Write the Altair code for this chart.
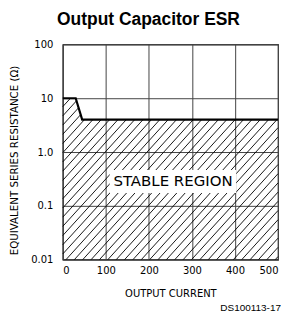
import altair as alt
import numpy as np
import pandas as pd

# ---- chart content ----
title_text = "Output Capacitor ESR"
curve_current = [0, 30, 45, 500]
curve_esr = [10, 10, 4, 4]
x_ticks = [0, 100, 200, 300, 400, 500]
y_ticks = [0.01, 0.1, 1, 10, 100]
x_title = "OUTPUT CURRENT"
y_title = "EQUIVALENT SERIES RESISTANCE (Ω)"
region_label = "STABLE REGION"
region_box_current = [109, 403]
region_box_esr = [0.174, 0.464]
footnote = "DS100113-17"

W, H = 216, 216
X_DOM = [0, 500]
Y_DOM = [0.01, 100]
FONT = "DejaVu Sans"

# ---- hatch pattern under the curve (straight lines in pixel space) ----
decades = np.log10(Y_DOM[1]) - np.log10(Y_DOM[0])
def to_px(xv, yv):
    return (np.asarray(xv, float) - X_DOM[0]) / (X_DOM[1] - X_DOM[0]) * W, \
           (np.log10(np.asarray(yv, float)) - np.log10(Y_DOM[0])) / decades * H
def from_px(px, py):
    return X_DOM[0] + px / W * (X_DOM[1] - X_DOM[0]), \
           10 ** (np.log10(Y_DOM[0]) + py / H * decades)

cx, cy = to_px(curve_current, curve_esr)
k = 1.1          # slope of hatch lines (pixels)
step = 8.4       # horizontal spacing of hatch lines (pixels)
grid = np.linspace(0, W, 8000)
bound = np.interp(grid, cx, cy)
rows = []
for c in np.arange(-400, W, step):
    if c >= 0:
        x0, y0 = c, 0.0
    else:
        x0, y0 = 0.0, -k * c
        if y0 >= bound[0]:
            continue
    m = grid >= x0
    f = k * (grid[m] - c) - bound[m]
    idx = np.nonzero(f >= 0)[0]
    if len(idx):
        x1 = grid[m][idx[0]]
        y1 = np.interp(x1, cx, cy)
    else:
        x1 = W
        y1 = k * (W - c)
    a, b = from_px(x0, y0)
    a2, b2 = from_px(x1, y1)
    rows.append({"x": a, "y": b, "x2": a2, "y2": b2})
hatch_df = pd.DataFrame(rows)

curve_df = pd.DataFrame({"current": curve_current, "esr": curve_esr})
box_df = pd.DataFrame({"x": [region_box_current[0]], "x2": [region_box_current[1]],
                       "y": [region_box_esr[0]], "y2": [region_box_esr[1]]})
label_df = pd.DataFrame({"x": [np.mean(region_box_current)],
                         "y": [float(np.sqrt(region_box_esr[0] * region_box_esr[1]))],
                         "t": [region_label]})
foot_df = pd.DataFrame({"t": [footnote]})
title_df = pd.DataFrame({"t": [title_text]})

xs = alt.Scale(domain=X_DOM, nice=False, zero=False)
ys = alt.Scale(type="log", domain=Y_DOM, nice=False)

x_axis = alt.Axis(values=x_ticks, title=x_title, grid=True, ticks=False, domain=False,
                  labelPadding=6, labelFontSize=10, labelFont=FONT, labelColor="black",
                  titleFont=FONT, titleFontSize=10, titleFontWeight="normal", titleColor="black",
                  titleY=37, titleBaseline="alphabetic", gridColor="#444", gridWidth=1,
                  gridOpacity=1)
y_axis = alt.Axis(values=y_ticks, title=y_title, grid=True, ticks=False, domain=False,
                  labelPadding=10, labelFontSize=10, labelFont=FONT, labelColor="black",
                  labelExpr="datum.value == 1 ? '1.0' : format(datum.value, '~g')",
                  titleFont=FONT, titleFontSize=10.3, titleFontWeight="normal", titleColor="black",
                  titleX=-43, titleY=116, titleBaseline="bottom", titleAngle=-90,
                  gridColor="#444", gridWidth=1, gridOpacity=1)

hatch = alt.Chart(hatch_df).mark_rule(color="black", strokeWidth=0.9).encode(
    x=alt.X("x:Q", scale=xs, axis=x_axis),
    y=alt.Y("y:Q", scale=ys, axis=y_axis),
    x2="x2:Q", y2="y2:Q")

box = alt.Chart(box_df).mark_rect(color="white", opacity=1).encode(
    x=alt.X("x:Q", scale=xs), x2="x2:Q", y=alt.Y("y:Q", scale=ys), y2="y2:Q")

label = alt.Chart(label_df).mark_text(font=FONT, fontSize=15, color="black",
                                      align="center", baseline="middle").encode(
    x=alt.X("x:Q", scale=xs), y=alt.Y("y:Q", scale=ys), text="t:N")

line = alt.Chart(curve_df).mark_line(color="black", strokeWidth=2.2).encode(
    x=alt.X("current:Q", scale=xs), y=alt.Y("esr:Q", scale=ys))

foot = alt.Chart(foot_df).mark_text(font="Liberation Sans", fontSize=10, color="black",
                                    align="right", baseline="alphabetic").encode(
    x=alt.value(219), y=alt.value(268), text="t:N")

title = alt.Chart(title_df).mark_text(font="Liberation Sans", fontSize=17.5, fontWeight="bold",
                                      color="black", align="center",
                                      baseline="alphabetic").encode(
    x=alt.value(86), y=alt.value(-19), text="t:N")

chart = alt.layer(hatch, box, label, line, foot, title).properties(
    width=W, height=H,
    autosize=alt.AutoSizeParams(type="none"),
    padding={"left": 55, "top": 36, "right": 3, "bottom": 54},
).configure_view(stroke="black", strokeWidth=1.2)

chart.save("out.html", embed_options={"renderer": "svg", "actions": False})
